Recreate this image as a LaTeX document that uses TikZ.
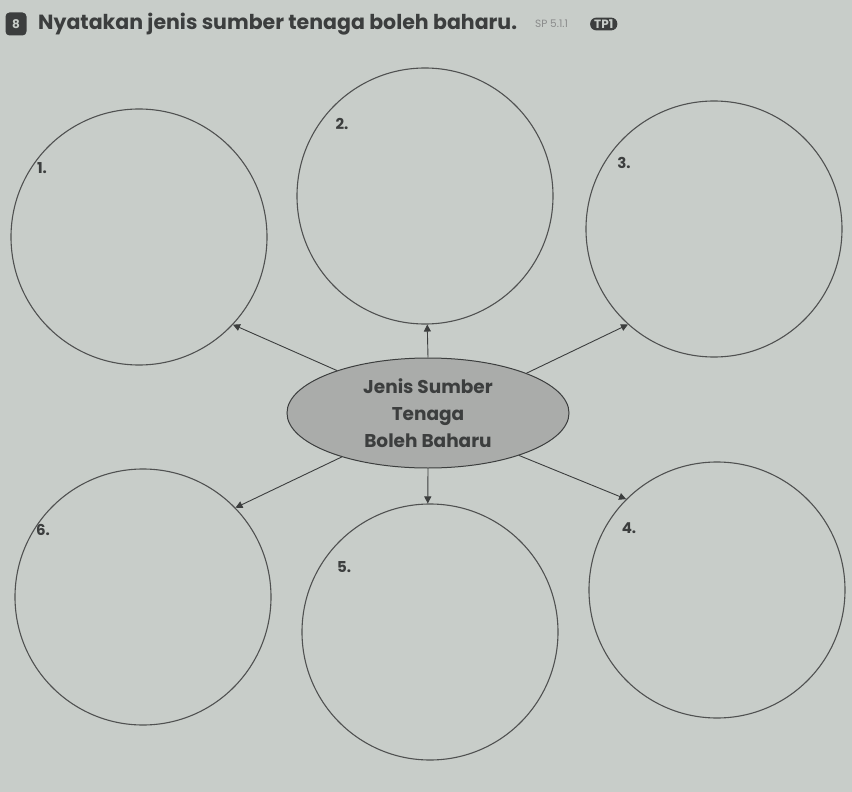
\documentclass[tikz,border=0pt]{standalone}
\usepackage{fontspec}
\setmainfont{Poppins}
\usetikzlibrary{arrows.meta,shapes.geometric}

\definecolor{paper}{RGB}{200,205,201}
\definecolor{ink}{RGB}{60,62,62}
\definecolor{hubfill}{RGB}{170,172,170}

\tikzset{
  ring/.style={draw=ink!90, line width=1.1pt, circle, minimum size=256pt, inner sep=0pt},
  hub/.style={draw=ink, line width=1pt, ellipse, fill=hubfill, minimum width=282pt,
    minimum height=110pt, inner sep=0pt, align=center, font=\fontsize{18.5}{27}\selectfont\bfseries, text=ink},
  link/.style={draw=ink, line width=0.9pt, -{Triangle[length=7pt,width=7pt]}},
  numlabel/.style={font=\fontsize{15}{18}\selectfont\bfseries, text=ink},
  badge/.style={fill=ink, rounded corners=4pt, text=paper, inner sep=2pt,
    font=\fontsize{12}{12}\selectfont\bfseries}
}

\begin{document}
\begin{tikzpicture}[x=1pt, y=-1pt]
    \fill[paper] (0,0) rectangle (852,792);
    \useasboundingbox (0,0) rectangle (852,792);

    % heading
    \node[badge, minimum width=21pt, minimum height=23pt] (qnum) at (16,24) {8};
    \node[anchor=west, font=\fontsize{20.5}{22}\selectfont\bfseries, text=ink, inner sep=0pt] (title)
        at (38,24) {Nyatakan jenis sumber tenaga boleh baharu.};
    \node[anchor=west, font=\fontsize{10.5}{10}\selectfont, text=ink!60, inner sep=0pt] (sp)
        at (535,24) {SP 5.1.1};
    \node[badge, anchor=west, rounded corners=6pt, inner xsep=4pt,
        font=\fontsize{12}{12}\selectfont\bfseries] (tp) at (590,24) {TP1};

    % answer circles
    \node[ring] (c1) at (139,237) {};
    \node[ring] (c2) at (425,196) {};
    \node[ring] (c3) at (714,229) {};
    \node[ring] (c4) at (717,590) {};
    \node[ring] (c5) at (430,632) {};
    \node[ring] (c6) at (143,597) {};

    \node[numlabel] (n1) at (42,168) {1.};
    \node[numlabel] (n2) at (342,124) {2.};
    \node[numlabel] (n3) at (624,163) {3.};
    \node[numlabel] (n4) at (629,528) {4.};
    \node[numlabel] (n5) at (344,567) {5.};
    \node[numlabel] (n6) at (43,530) {6.};

    % centre
    \node[hub] (hub) at (428,413) {Jenis Sumber\\Tenaga\\Boleh Baharu};

    \draw[link] (hub.155) -- (c1.-43);
    \draw[link] (hub.north) -- (c2.-89);
    \draw[link] (hub.22) -- (c3.-132);
    \draw[link] (hub.-25) -- (c4.135);
    \draw[link] (hub.south) -- (c5.91);
    \draw[link] (hub.207) -- (c6.44);
\end{tikzpicture}
\end{document}
